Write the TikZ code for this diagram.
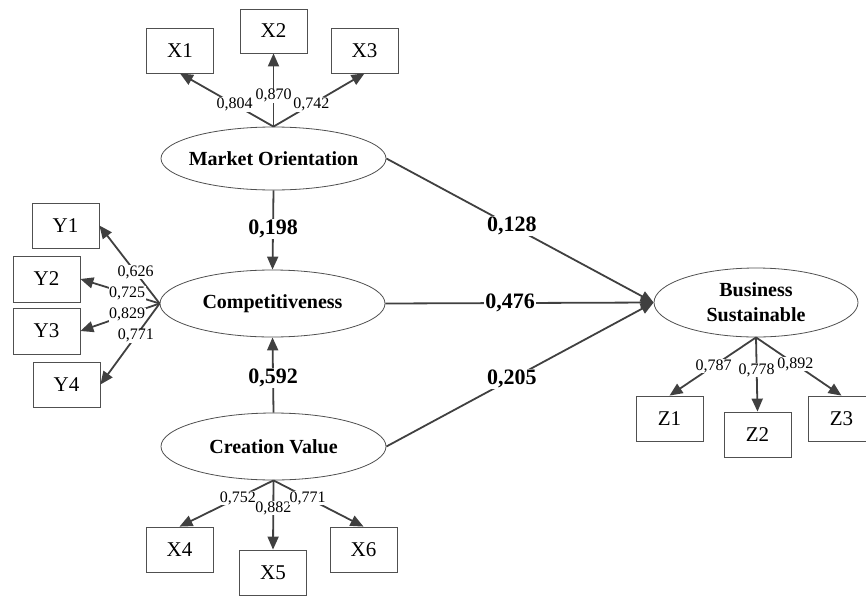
\documentclass[tikz,border=0pt]{standalone}
\usepackage{fontspec}
\setmainfont{Liberation Serif}
\usetikzlibrary{arrows.meta,shapes.geometric}
\definecolor{ln}{HTML}{404040}
\definecolor{bx}{HTML}{505050}
\tikzset{
  latent/.style={draw=bx, line width=0.8pt, ellipse, inner sep=0pt},
  lattext/.style={font=\fontsize{20}{25}\selectfont\bfseries, align=center, inner sep=0pt},
  ind/.style={draw=bx, line width=0.8pt, rectangle, minimum width=67pt, minimum height=45pt, inner sep=0pt, font=\fontsize{21}{21}\selectfont},
  arr/.style={draw=ln, line width=1.8pt, -{Triangle[length=13pt,width=11pt]}},
  plain/.style={draw=ln, line width=1.8pt},
  ld/.style={fill=white, inner sep=0.6pt, font=\fontsize{16}{16}\selectfont},
  pc/.style={fill=white, inner sep=1.2pt, font=\fontsize{22}{22}\selectfont\bfseries}
}
\begin{document}
\begin{tikzpicture}[x=1pt,y=-1pt]
\useasboundingbox (0,0) rectangle (866,597);
% latent variables
\node[latent, minimum width=225pt, minimum height=63pt] (mo) at (273.5,158.5) {};
\node[lattext] (mot) at (mo) {Market Orientation};
\node[latent, minimum width=225pt, minimum height=67pt] (comp) at (272.5,303.5) {};
\node[lattext] (compt) at (comp) {Competitiveness};
\node[latent, minimum width=225pt, minimum height=67pt] (cv) at (273.5,446.5) {};
\node[lattext] (cvt) at (cv) {Creation Value};
\node[latent, minimum width=204pt, minimum height=69pt] (bs) at (756,302.5) {};
\node[lattext] (bst) at (bs) {Business\\Sustainable};
% indicators
\node[ind] (x1) at (180,50.5) {X1};
\node[ind, minimum height=44pt] (x2) at (273.5,31) {X2};
\node[ind] (x3) at (364.5,50.5) {X3};
\node[ind] (y1) at (65.5,225.5) {Y1};
\node[ind, minimum height=46pt] (y2) at (46.5,279) {Y2};
\node[ind, minimum height=46pt] (y3) at (46.5,331) {Y3};
\node[ind] (y4) at (66.5,384.5) {Y4};
\node[ind] (x4) at (179.5,549.5) {X4};
\node[ind] (x5) at (273,572.5) {X5};
\node[ind] (x6) at (363.5,549.5) {X6};
\node[ind] (z1) at (669.5,418.5) {Z1};
\node[ind] (z2) at (757.5,434.5) {Z2};
\node[ind] (z3) at (841.5,418.5) {Z3};
% loadings: Market Orientation
\draw[arr] (mo.north) -- node[ld, pos=0.415] (l1) {0,804} (x1.south);
\draw[arr] (mo.north) -- node[ld, pos=0.42] (l2) {0,870} (x2.south);
\draw[arr] (mo.north) -- node[ld, pos=0.415] (l3) {0,742} (x3.south);
% loadings: Competitiveness
\draw[arr] (comp.west) -- node[ld, pos=0.4] (l4) {0,626} (y1.east);
\draw[arr] (comp.west) -- node[ld, pos=0.41] (l5) {0,725} (y2.east);
\draw[arr] (comp.west) -- node[ld, pos=0.41] (l6) {0,829} (y3.east);
\draw[arr] (comp.west) -- node[ld, pos=0.4] (l7) {0,771} (y4.east);
% loadings: Creation Value
\draw[arr] (cv.south) -- node[ld, pos=0.38] (l8) {0,752} (x4.north);
\draw[arr] (cv.south) -- node[ld, pos=0.4] (l9) {0,882} (x5.north);
\draw[arr] (cv.south) -- node[ld, pos=0.38] (l10) {0,771} (x6.north);
% loadings: Business Sustainable
\draw[arr] (bs.south) -- node[ld, pos=0.49] (l11) {0,787} (z1.north);
\draw[arr] (bs.south) -- node[ld, pos=0.44] (l12) {0,778} (z2.north);
\draw[arr] (bs.south) -- node[ld, pos=0.46] (l13) {0,892} (z3.north);
% structural paths
\draw[arr] (mo.south) -- node[pc, pos=0.49] (p1) {0,198} (comp.north);
\draw[arr] (cv.north) -- node[pc, pos=0.46] (p2) {0,592} (comp.south);
\draw[arr] (mo.east) -- node[pc, pos=0.47] (p3) {0,128} (bs.west);
\draw[arr] (comp.east) -- node[pc, pos=0.465] (p4) {0,476} (bs.west);
\draw[arr] (cv.east) -- node[pc, pos=0.47] (p5) {0,205} (bs.west);
\end{tikzpicture}
\end{document}
